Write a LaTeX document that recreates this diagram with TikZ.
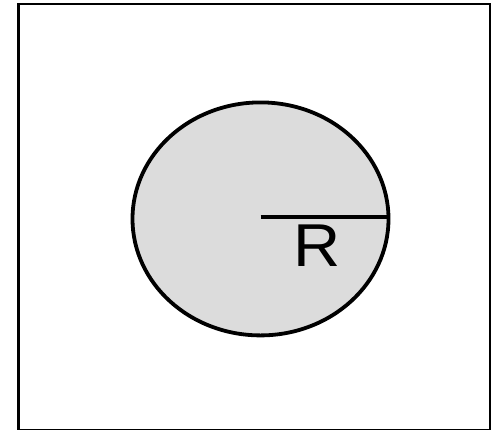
\documentclass[tikz,border=0pt]{standalone}
\usepackage{fontspec}
\setmainfont{Liberation Sans}
\begin{document}
\begin{tikzpicture}[x=1pt,y=-1pt,
  frame/.style={draw=black,line width=2.6pt},
  disc/.style={draw=black,line width=3.8pt,fill={rgb,255:red,220;green,220;blue,220}},
  radius/.style={draw=black,line width=4pt}]
\useasboundingbox (0,0) rectangle (503,429);
\draw[frame] (18.3,4) rectangle (490,430);
\path[disc] (260.5,218.9) ellipse [x radius=128, y radius=116.5];
\coordinate (c) at (260.5,216.5);
\coordinate (e) at (389,216.5);
\draw[radius] (c) -- (e);
\node[anchor=base west,inner sep=0pt,xscale=1.08,font=\fontsize{60.5}{62}\selectfont] (r) at (293.3,266.7) {R};
\end{tikzpicture}
\end{document}
